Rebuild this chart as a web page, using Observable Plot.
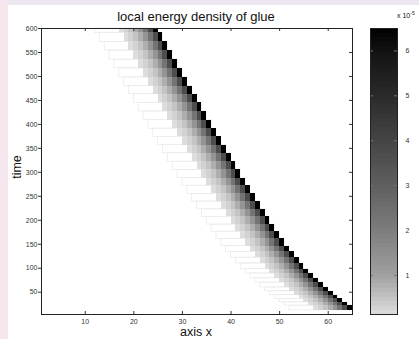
<!DOCTYPE html>
<html><head><meta charset="utf-8">
<script src="https://cdn.jsdelivr.net/npm/d3@7"></script>
<script src="https://cdn.jsdelivr.net/npm/@observablehq/plot@0.6"></script>
<style>
html,body{margin:0;padding:0;width:419px;height:339px;overflow:hidden;background:#fff;font-family:"Liberation Sans",Arial,sans-serif;}
#stripTop{position:absolute;left:0;top:0;width:419px;height:5px;background:#ece6f0;}
#stripLeft{position:absolute;left:0;top:0;width:8px;height:339px;background:#f6e6ee;}
#main{position:absolute;left:0;top:0;}
#cbar{position:absolute;left:360px;top:0;}
#labels{position:absolute;left:0;top:0;pointer-events:none;}
</style></head><body>
<div id="stripTop"></div><div id="stripLeft"></div>
<div id="main"></div><div id="cbar"></div>
<svg id="labels" width="419" height="339"></svg>
<script>
// ---- data ----
const xTicks = [10, 20, 30, 40, 50, 60];
const yTicks = [50, 100, 150, 200, 250, 300, 350, 400, 450, 500, 550, 600];
const cbarTicks = [1, 2, 3, 4, 5, 6];
// column (right edge) of the dark front in each stair step, and the step boundaries in time
const frontEdge = [25,26,27,28,29,30,31,32,33,34,35,36,37,38,39,40,41,42,43,44,45,46,47,48,49,50,51,52,53,54,55,56,57,58,59,60,61,62,63,64,65];
const stepTimes = [600,591,572,554,535,517,498,480,463,445,427,409,391,374,357,340,322,305,288,272,255,239,223,207,191,176,161,146,134,122,110,98,89,79,70,60,52,44,36,29,22,12];
// energy density (x 1e-5) behind the front, by columns behind it
const profile = [6.5, 3.7, 2.3, 1.35, 0.8, 0.5, 0.3, 0.14];
// faint trailing width (columns) of each step's wake
const wakeWidth = 13;
// colormap: value -> gray level as seen on the colorbar
const cStops = [0.13, 1, 2, 3, 4, 5, 6, 6.5];
const cGrays = [222, 160, 125, 95, 69, 42, 18, 0];
const cDomain = [0.13, 6.5];

const cells = [];
const wakes = [];
frontEdge.forEach((e, i) => {
  const t2 = stepTimes[i], t1 = stepTimes[i + 1];
  profile.forEach((v, d) => {
    const x2 = e - d, x1 = x2 - 1;
    if (x1 >= 1) cells.push({x1, x2, t1, t2, v});
  });
  wakes.push({x1: Math.max(1, e - wakeWidth), x2: e, t1, t2});
});

const grayAt = d3.scaleLinear().domain(cStops).range(cGrays);
const colorOpts = {type: "linear", domain: cDomain, clamp: true,
  interpolate: t => { const g = Math.round(grayAt(cDomain[0] + t * (cDomain[1] - cDomain[0]))); return `rgb(${g},${g},${g})`; }};

const font = '"Liberation Sans", Arial, sans-serif';
const W = 360, H = 339, mL = 41, mR = 8, mT = 28, mB = 25;
const pw = W - mL - mR, ph = H - mT - mB;

const main = Plot.plot({
  width: W, height: H, marginLeft: mL, marginRight: mR, marginTop: mT, marginBottom: mB,
  style: {background: "transparent", fontFamily: font, fontSize: "7px", color: "#333"},
  x: {domain: [1, 65]},
  y: {domain: [3.5, 600]},
  color: colorOpts,
  marks: [
    Plot.rect(wakes, {x1: "x1", x2: "x2", y1: "t1", y2: "t2", fill: "none", stroke: "#ebebeb", strokeWidth: 0.8}),
    Plot.rect(cells, {x1: "x1", x2: "x2", y1: "t1", y2: "t2", fill: "v", shapeRendering: "crispEdges"}),
    Plot.tickX(xTicks, {x: d => d, insetTop: ph - 3, stroke: "#333"}),
    Plot.tickX(xTicks, {x: d => d, insetBottom: ph - 3, stroke: "#333"}),
    Plot.tickY(yTicks, {y: d => d, insetLeft: pw - 3, stroke: "#333"}),
    Plot.axisX(xTicks, {tickSize: 0, tickPadding: 5, label: null}),
    Plot.axisY(yTicks, {tickSize: 3, tickPadding: 1, label: null}),
    Plot.frame({stroke: "#222"})
  ]
});
document.getElementById("main").appendChild(main);

const levels = d3.range(64).map(i => {
  const s = (cDomain[1] - cDomain[0]) / 64;
  return {y1: cDomain[0] + i * s, y2: cDomain[0] + (i + 1) * s, v: cDomain[0] + (i + 0.5) * s};
});
const cbW = 59, cbL = 10, cbR = 22;
const cbar = Plot.plot({
  width: cbW, height: H, marginLeft: cbL, marginRight: cbR, marginTop: mT, marginBottom: mB,
  style: {background: "transparent", fontFamily: font, fontSize: "7px", color: "#333"},
  y: {domain: cDomain},
  color: colorOpts,
  marks: [
    Plot.rect(levels, {y1: "y1", y2: "y2", fill: "v", stroke: "v", strokeWidth: 0.5, shapeRendering: "crispEdges"}),
    Plot.tickY(cbarTicks, {y: d => d, insetRight: cbW - cbL - cbR - 3, stroke: "#777"}),
    Plot.tickY(cbarTicks, {y: d => d, insetLeft: cbW - cbL - cbR - 3, stroke: "#777"}),
    Plot.axisY(cbarTicks, {anchor: "right", tickSize: 0, tickPadding: 8, label: null}),
    Plot.frame({stroke: "#222"})
  ]
});
document.getElementById("cbar").appendChild(cbar);

const lab = d3.select("#labels").style("font-family", font).attr("fill", "#111");
lab.append("text").attr("x", 196).attr("y", 21).attr("text-anchor", "middle").attr("font-size", 13).text("local energy density of glue");
lab.append("text").attr("x", 196).attr("y", 336).attr("text-anchor", "middle").attr("font-size", 12.5).text("axis x");
lab.append("text").attr("transform", "translate(20.5,167) rotate(-90)").attr("text-anchor", "middle").attr("font-size", 12.5).text("time");
const ex = lab.append("text").attr("x", 397).attr("y", 18).attr("font-size", 7);
ex.append("tspan").text("x 10");
ex.append("tspan").attr("dy", -3).attr("font-size", 5).text("-5");
</script>
</body></html>
